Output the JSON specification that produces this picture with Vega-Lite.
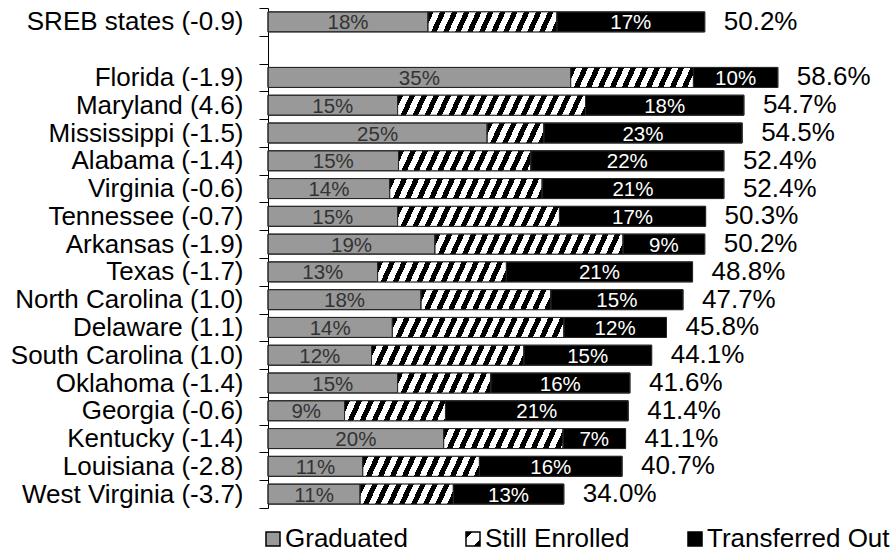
{
  "$schema": "https://vega.github.io/schema/vega-lite/v6.json",
  "autosize": "none",
  "width": 609,
  "height": 500,
  "padding": {"left": 268, "top": 8, "right": 14, "bottom": 46},
  "background": "white",
  "params": [
    {"name": "seLegendGrad", "value": {"gradient": "linear", "x1": 0, "y1": 0, "x2": 1, "y2": 1, "stops": [
      {"offset": 0, "color": "#000"}, {"offset": 0.24, "color": "#000"}, {"offset": 0.24, "color": "#fff"},
      {"offset": 0.76, "color": "#fff"}, {"offset": 0.76, "color": "#000"}, {"offset": 1, "color": "#000"}
    ]}},
    {"name": "hatchStops", "value": [
      {"offset": 0, "color": "#000"}, {"offset": 0.023, "color": "#000"}, {"offset": 0.023, "color": "#fff"}, {"offset": 0.05, "color": "#fff"},
      {"offset": 0.05, "color": "#000"}, {"offset": 0.073, "color": "#000"}, {"offset": 0.073, "color": "#fff"}, {"offset": 0.10, "color": "#fff"},
      {"offset": 0.10, "color": "#000"}, {"offset": 0.123, "color": "#000"}, {"offset": 0.123, "color": "#fff"}, {"offset": 0.15, "color": "#fff"},
      {"offset": 0.15, "color": "#000"}, {"offset": 0.173, "color": "#000"}, {"offset": 0.173, "color": "#fff"}, {"offset": 0.20, "color": "#fff"},
      {"offset": 0.20, "color": "#000"}, {"offset": 0.223, "color": "#000"}, {"offset": 0.223, "color": "#fff"}, {"offset": 0.25, "color": "#fff"},
      {"offset": 0.25, "color": "#000"}, {"offset": 0.273, "color": "#000"}, {"offset": 0.273, "color": "#fff"}, {"offset": 0.30, "color": "#fff"},
      {"offset": 0.30, "color": "#000"}, {"offset": 0.323, "color": "#000"}, {"offset": 0.323, "color": "#fff"}, {"offset": 0.35, "color": "#fff"},
      {"offset": 0.35, "color": "#000"}, {"offset": 0.373, "color": "#000"}, {"offset": 0.373, "color": "#fff"}, {"offset": 0.40, "color": "#fff"},
      {"offset": 0.40, "color": "#000"}, {"offset": 0.423, "color": "#000"}, {"offset": 0.423, "color": "#fff"}, {"offset": 0.45, "color": "#fff"},
      {"offset": 0.45, "color": "#000"}, {"offset": 0.473, "color": "#000"}, {"offset": 0.473, "color": "#fff"}, {"offset": 0.50, "color": "#fff"},
      {"offset": 0.50, "color": "#000"}, {"offset": 0.523, "color": "#000"}, {"offset": 0.523, "color": "#fff"}, {"offset": 0.55, "color": "#fff"},
      {"offset": 0.55, "color": "#000"}, {"offset": 0.573, "color": "#000"}, {"offset": 0.573, "color": "#fff"}, {"offset": 0.60, "color": "#fff"},
      {"offset": 0.60, "color": "#000"}, {"offset": 0.623, "color": "#000"}, {"offset": 0.623, "color": "#fff"}, {"offset": 0.65, "color": "#fff"},
      {"offset": 0.65, "color": "#000"}, {"offset": 0.673, "color": "#000"}, {"offset": 0.673, "color": "#fff"}, {"offset": 0.70, "color": "#fff"},
      {"offset": 0.70, "color": "#000"}, {"offset": 0.723, "color": "#000"}, {"offset": 0.723, "color": "#fff"}, {"offset": 0.75, "color": "#fff"},
      {"offset": 0.75, "color": "#000"}, {"offset": 0.773, "color": "#000"}, {"offset": 0.773, "color": "#fff"}, {"offset": 0.80, "color": "#fff"},
      {"offset": 0.80, "color": "#000"}, {"offset": 0.823, "color": "#000"}, {"offset": 0.823, "color": "#fff"}, {"offset": 0.85, "color": "#fff"},
      {"offset": 0.85, "color": "#000"}, {"offset": 0.873, "color": "#000"}, {"offset": 0.873, "color": "#fff"}, {"offset": 0.90, "color": "#fff"},
      {"offset": 0.90, "color": "#000"}, {"offset": 0.923, "color": "#000"}, {"offset": 0.923, "color": "#fff"}, {"offset": 0.95, "color": "#fff"},
      {"offset": 0.95, "color": "#000"}, {"offset": 0.973, "color": "#000"}, {"offset": 0.973, "color": "#fff"}, {"offset": 1, "color": "#fff"}
    ]}
  ],
  "data": {"values": [
    {"state": "SREB states (-0.9)", "status": "Graduated", "pct": 0.184},
    {"state": "SREB states (-0.9)", "status": "Still Enrolled", "pct": 0.148},
    {"state": "SREB states (-0.9)", "status": "Transferred Out", "pct": 0.170},
    {"state": "Florida (-1.9)", "status": "Graduated", "pct": 0.348},
    {"state": "Florida (-1.9)", "status": "Still Enrolled", "pct": 0.141},
    {"state": "Florida (-1.9)", "status": "Transferred Out", "pct": 0.097},
    {"state": "Maryland (4.6)", "status": "Graduated", "pct": 0.149},
    {"state": "Maryland (4.6)", "status": "Still Enrolled", "pct": 0.216},
    {"state": "Maryland (4.6)", "status": "Transferred Out", "pct": 0.182},
    {"state": "Mississippi (-1.5)", "status": "Graduated", "pct": 0.252},
    {"state": "Mississippi (-1.5)", "status": "Still Enrolled", "pct": 0.065},
    {"state": "Mississippi (-1.5)", "status": "Transferred Out", "pct": 0.228},
    {"state": "Alabama (-1.4)", "status": "Graduated", "pct": 0.150},
    {"state": "Alabama (-1.4)", "status": "Still Enrolled", "pct": 0.152},
    {"state": "Alabama (-1.4)", "status": "Transferred Out", "pct": 0.222},
    {"state": "Virginia (-0.6)", "status": "Graduated", "pct": 0.140},
    {"state": "Virginia (-0.6)", "status": "Still Enrolled", "pct": 0.175},
    {"state": "Virginia (-0.6)", "status": "Transferred Out", "pct": 0.209},
    {"state": "Tennessee (-0.7)", "status": "Graduated", "pct": 0.149},
    {"state": "Tennessee (-0.7)", "status": "Still Enrolled", "pct": 0.186},
    {"state": "Tennessee (-0.7)", "status": "Transferred Out", "pct": 0.168},
    {"state": "Arkansas (-1.9)", "status": "Graduated", "pct": 0.192},
    {"state": "Arkansas (-1.9)", "status": "Still Enrolled", "pct": 0.216},
    {"state": "Arkansas (-1.9)", "status": "Transferred Out", "pct": 0.094},
    {"state": "Texas (-1.7)", "status": "Graduated", "pct": 0.126},
    {"state": "Texas (-1.7)", "status": "Still Enrolled", "pct": 0.148},
    {"state": "Texas (-1.7)", "status": "Transferred Out", "pct": 0.214},
    {"state": "North Carolina (1.0)", "status": "Graduated", "pct": 0.176},
    {"state": "North Carolina (1.0)", "status": "Still Enrolled", "pct": 0.149},
    {"state": "North Carolina (1.0)", "status": "Transferred Out", "pct": 0.152},
    {"state": "Delaware (1.1)", "status": "Graduated", "pct": 0.143},
    {"state": "Delaware (1.1)", "status": "Still Enrolled", "pct": 0.197},
    {"state": "Delaware (1.1)", "status": "Transferred Out", "pct": 0.118},
    {"state": "South Carolina (1.0)", "status": "Graduated", "pct": 0.119},
    {"state": "South Carolina (1.0)", "status": "Still Enrolled", "pct": 0.175},
    {"state": "South Carolina (1.0)", "status": "Transferred Out", "pct": 0.147},
    {"state": "Oklahoma (-1.4)", "status": "Graduated", "pct": 0.149},
    {"state": "Oklahoma (-1.4)", "status": "Still Enrolled", "pct": 0.107},
    {"state": "Oklahoma (-1.4)", "status": "Transferred Out", "pct": 0.160},
    {"state": "Georgia (-0.6)", "status": "Graduated", "pct": 0.088},
    {"state": "Georgia (-0.6)", "status": "Still Enrolled", "pct": 0.116},
    {"state": "Georgia (-0.6)", "status": "Transferred Out", "pct": 0.210},
    {"state": "Kentucky (-1.4)", "status": "Graduated", "pct": 0.202},
    {"state": "Kentucky (-1.4)", "status": "Still Enrolled", "pct": 0.137},
    {"state": "Kentucky (-1.4)", "status": "Transferred Out", "pct": 0.072},
    {"state": "Louisiana (-2.8)", "status": "Graduated", "pct": 0.109},
    {"state": "Louisiana (-2.8)", "status": "Still Enrolled", "pct": 0.134},
    {"state": "Louisiana (-2.8)", "status": "Transferred Out", "pct": 0.164},
    {"state": "West Virginia (-3.7)", "status": "Graduated", "pct": 0.106},
    {"state": "West Virginia (-3.7)", "status": "Still Enrolled", "pct": 0.107},
    {"state": "West Virginia (-3.7)", "status": "Transferred Out", "pct": 0.127}
  ]},
  "encoding": {
    "y": {
      "field": "state", "type": "nominal",
      "scale": {
        "domain": ["SREB states (-0.9)", " ", "Florida (-1.9)", "Maryland (4.6)", "Mississippi (-1.5)", "Alabama (-1.4)", "Virginia (-0.6)", "Tennessee (-0.7)", "Arkansas (-1.9)", "Texas (-1.7)", "North Carolina (1.0)", "Delaware (1.1)", "South Carolina (1.0)", "Oklahoma (-1.4)", "Georgia (-0.6)", "Kentucky (-1.4)", "Louisiana (-2.8)", "West Virginia (-3.7)"],
        "paddingInner": 0, "paddingOuter": 0
      },
      "axis": {
        "title": null, "tickBand": "extent", "tickSize": 9, "labelPadding": 16,
        "labelFontSize": 26, "labelFont": "Liberation Sans", "labelColor": "#000000",
        "tickColor": "#000000", "domainColor": "#000000", "labelLimit": 400, "grid": false
      }
    }
  },
  "layer": [
    {
      "mark": {"type": "bar", "size": 20, "stroke": "#262626", "strokeWidth": 1},
      "encoding": {
        "x": {"field": "pct", "type": "quantitative", "stack": "zero", "scale": {"domain": [0, 0.7], "nice": false}, "axis": null},
        "order": {"field": "status", "sort": "ascending"},
        "color": {
          "field": "status", "type": "nominal",
          "scale": {"domain": ["Graduated", "Still Enrolled", "Transferred Out"], "range": ["#999999", {"expr": "seLegendGrad"}, "#000000"]},
          "legend": {
            "orient": "none", "legendX": -8, "legendY": 518, "direction": "horizontal", "title": null,
            "symbolType": "square", "symbolSize": 196, "symbolStrokeColor": "#000000", "symbolStrokeWidth": 1.5,
            "labelFontSize": 26, "labelFont": "Liberation Sans", "labelColor": "#000000", "labelOffset": -1,
            "columnPadding": 52, "padding": 0, "labelLimit": 400,
            "encode": {
              "symbols": {"update": {
                "stroke": {"value": "#000000"},
                "strokeWidth": {"value": 1.5}
              }}
            }
          }
        }
      }
    },
    {
      "mark": {
        "type": "bar", "size": 20, "stroke": "#262626", "strokeWidth": 1,
        "fill": {"expr": "datum.status === 'Still Enrolled' ? {gradient: 'linear', x1: 0, y1: 0, x2: 240 / (datum.pct * 870 + 82.64 / (datum.pct * 870)), y2: (240 / (datum.pct * 870 + 82.64 / (datum.pct * 870))) * 9.091 / (datum.pct * 870), stops: hatchStops} : 'transparent'"}
      },
      "encoding": {
        "x": {"field": "pct", "type": "quantitative", "stack": "zero"},
        "detail": {"field": "status"},
        "order": {"field": "status", "sort": "ascending"}
      }
    },
    {
      "mark": {
        "type": "text", "baseline": "middle", "align": "center", "dy": 1.5,
        "font": "Liberation Sans", "fontSize": 20.5,
        "fill": {"expr": "datum.status === 'Transferred Out' ? '#ffffff' : '#333333'"}
      },
      "encoding": {
        "x": {"field": "pct", "type": "quantitative", "stack": "zero", "bandPosition": 0.5},
        "detail": {"field": "status"},
        "order": {"field": "status", "sort": "ascending"},
        "text": {
          "condition": {"test": "datum.status === 'Still Enrolled'", "value": ""},
          "field": "pct", "type": "quantitative", "format": ".0%"
        }
      }
    },
    {
      "mark": {"type": "text", "baseline": "middle", "align": "left", "dx": 19, "font": "Liberation Sans", "fontSize": 26, "fill": "#000000"},
      "encoding": {
        "x": {"aggregate": "sum", "field": "pct", "type": "quantitative"},
        "text": {"aggregate": "sum", "field": "pct", "type": "quantitative", "format": ".1%"}
      }
    }
  ],
  "config": {
    "view": {"stroke": null},
    "font": "Liberation Sans"
  }
}
